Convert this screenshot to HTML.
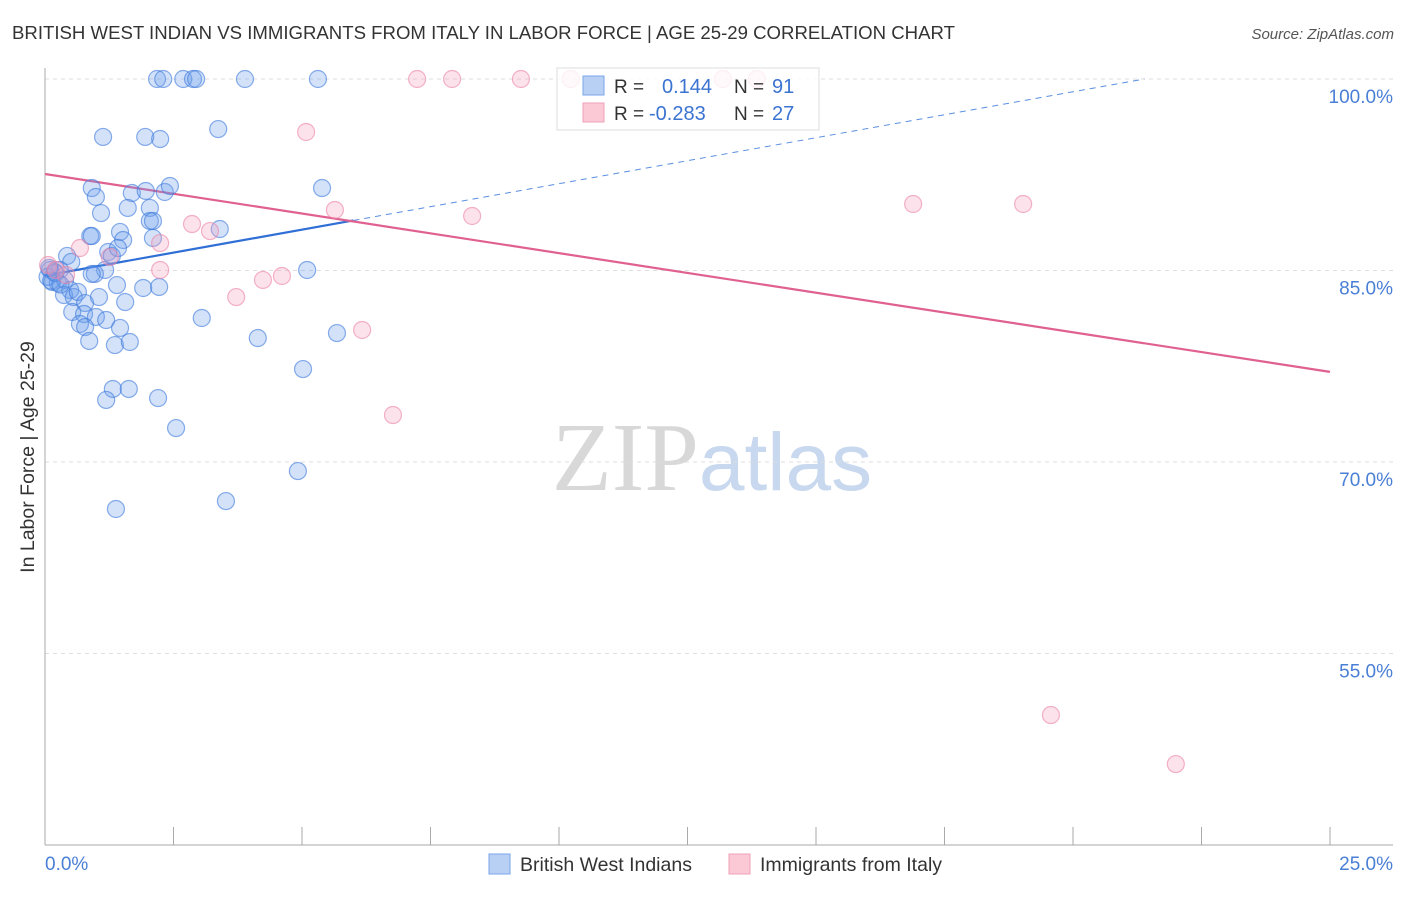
<!DOCTYPE html>
<html><head><meta charset="utf-8"><style>
body{margin:0;background:#fff;font-family:"Liberation Sans",sans-serif;}
svg text{font-family:"Liberation Sans",sans-serif;}
</style></head><body>
<svg id="chart" width="1406" height="892" xmlns="http://www.w3.org/2000/svg">
<text x="12" y="39" font-size="18.6" fill="#333">BRITISH WEST INDIAN VS IMMIGRANTS FROM ITALY IN LABOR FORCE | AGE 25-29 CORRELATION CHART</text>
<text x="1394" y="39" font-size="15" fill="#555" text-anchor="end" font-style="italic">Source: ZipAtlas.com</text>
<text transform="translate(34,457) rotate(-90)" font-size="19.5" fill="#333" text-anchor="middle">In Labor Force | Age 25-29</text>
<text x="712" y="490" font-size="98" text-anchor="middle" fill="#ddd"><tspan font-family="Liberation Serif" fill="#d8d8d8">ZIP</tspan><tspan fill="#c8d8ef" font-size="82">atlas</tspan></text>
<g id="grid"></g>
<g id="axes"></g>
<g id="lines"></g>
<g id="pts"></g>
<g>
<rect x="557" y="68" width="262" height="62" fill="#fff" fill-opacity="0.8" stroke="#ddd"/>
<rect x="583" y="76" width="21" height="19" fill="#b8d0f4" stroke="#7aa6e8"/>
<rect x="583" y="103" width="21" height="19" fill="#fbc8d6" stroke="#f0a0b8"/>
<text x="614" y="93" font-size="19" fill="#333">R = </text><text x="662" y="93" font-size="20" fill="#3b73d1">0.144</text>
<text x="734" y="93" font-size="19" fill="#333">N = </text><text x="772" y="93" font-size="20" fill="#3b73d1">91</text>
<text x="614" y="120" font-size="19" fill="#333">R = </text><text x="649" y="120" font-size="20" fill="#3b73d1">-0.283</text>
<text x="734" y="120" font-size="19" fill="#333">N = </text><text x="772" y="120" font-size="20" fill="#3b73d1">27</text>
</g>
<g>
<rect x="489" y="854" width="21" height="20" fill="#b8d0f4" stroke="#7aa6e8"/>
<text x="520" y="871" font-size="19.5" fill="#333">British West Indians</text>
<rect x="729" y="854" width="21" height="20" fill="#fbc8d6" stroke="#f0a0b8"/>
<text x="760" y="871" font-size="19.5" fill="#333">Immigrants from Italy</text>
</g>
</svg>
<script>
const yTicks=[100,85,70,55];
const yTickLabels=["100.0%","85.0%","70.0%","55.0%"];
const xTickVals=[0,2.5,5,7.5,10,12.5,15,17.5,20,22.5,25];
const blueX=[2.18,2.30,2.69,2.88,2.94,3.89,5.31,1.13,1.95,2.24,3.37,0.91,0.99,1.69,1.96,2.33,2.43,5.39,1.09,1.61,2.04,2.04,2.10,0.88,0.91,1.46,1.52,2.10,3.40,1.23,1.30,1.42,1.17,0.97,0.91,5.10,0.43,0.51,0.29,0.10,0.19,0.14,0.25,0.39,0.49,0.37,0.56,0.64,0.78,1.05,1.56,1.40,1.91,2.22,0.53,0.76,0.99,1.19,0.68,0.78,1.46,0.86,1.36,1.65,3.05,4.14,5.68,1.32,1.63,1.19,2.20,2.55,5.02,4.92,3.52,1.38,0.05,0.12,0.20,0.30,0.08];
const blueY=[100,100,100,100,100,100,100,95.46,95.46,95.30,96.08,91.46,90.76,91.07,91.23,91.15,91.62,91.46,89.50,89.90,89.90,88.88,88.88,87.70,87.70,88.02,87.39,87.55,88.25,86.45,86.14,86.76,85.04,84.73,84.73,85.04,86.14,85.67,85.04,85.04,84.88,84.10,84.02,84.26,83.47,83.08,82.92,83.32,82.45,82.92,82.53,83.86,83.63,83.71,81.75,81.59,81.36,81.12,80.81,80.57,80.50,79.48,79.16,79.40,81.28,79.71,80.10,75.72,75.72,74.86,75.01,72.66,77.28,69.29,66.94,66.32,84.5,84.2,84.8,83.9,85.2];
const pinkX=[7.24,7.92,9.26,10.23,13.19,13.85,5.08,5.64,8.31,16.89,19.03,2.86,3.21,2.24,0.68,1.26,2.24,0.06,4.61,4.24,3.72,6.17,6.77,19.57,22.00,0.21,0.41];
const pinkY=[100,100,100,100,100,100,95.85,89.74,89.27,90.21,90.21,88.64,88.09,87.15,86.76,86.06,85.04,85.43,84.57,84.26,82.92,80.34,73.68,50.18,46.34,85.04,84.65];
const blueFit=[84.6,0.72], pinkFit=[92.56,-0.62];
const NS="http://www.w3.org/2000/svg";
const sx=v=>45+v*(1285/25), sy=v=>79+(100-v)*(191.5/15);
function mk(tag,at,parent){const e=document.createElementNS(NS,tag);for(const k in at)e.setAttribute(k,at[k]);document.getElementById(parent).appendChild(e);return e;}
yTicks.forEach((t,i)=>{
 const g=mk('line',{x1:45,x2:1393,y1:sy(t),y2:sy(t),stroke:'#ddd','stroke-dasharray':'4,4'},'grid');
 
 
 const l=mk('text',{x:1393,y:sy(t)+24,'font-size':19,fill:'#4a7fd6','text-anchor':'end'},'axes');
 l.textContent=yTickLabels[i];
 
 
});
const ax=mk('line',{x1:45,x2:1393,y1:845,y2:845,stroke:'#aaa'},'axes');


const ay=mk('line',{x1:45,x2:45,y1:68,y2:845,stroke:'#aaa'},'axes');


xTickVals.forEach(v=>{
 const t=mk('line',{x1:sx(v),x2:sx(v),y1:827,y2:845,stroke:'#aaa'},'axes');
 
 
});
const xl0=mk('text',{x:45,y:870,'font-size':19,fill:'#4a7fd6'},'axes');xl0.textContent='0.0%';


const xl1=mk('text',{x:1393,y:870,'font-size':19,fill:'#4a7fd6','text-anchor':'end'},'axes');xl1.textContent='25.0%';


blueX.forEach((x,i)=>{
 const c=mk('circle',{cx:sx(x),cy:sy(blueY[i]),r:8.5,fill:'rgba(110,160,235,0.3)',stroke:'rgba(60,120,220,0.6)','stroke-width':1.2},'pts');
 
 
});
pinkX.forEach((x,i)=>{
 const c=mk('circle',{cx:sx(x),cy:sy(pinkY[i]),r:8.5,fill:'rgba(245,160,190,0.3)',stroke:'rgba(235,130,165,0.6)','stroke-width':1.2},'pts');
 
 
});
const bf=x=>blueFit[0]+blueFit[1]*x, pf=x=>pinkFit[0]+pinkFit[1]*x;
const bl=mk('line',{x1:sx(0),y1:sy(bf(0)),x2:sx(6.0),y2:sy(bf(6.0)),stroke:'#2f6fd6','stroke-width':2.2},'lines');


const xEnd=(100-blueFit[0])/blueFit[1];
const bd=mk('line',{x1:sx(6.0),y1:sy(bf(6.0)),x2:sx(xEnd),y2:sy(100),stroke:'#5b8fe0','stroke-width':1,'stroke-dasharray':'6,5'},'lines');


const pl=mk('line',{x1:sx(0),y1:sy(pf(0)),x2:sx(25),y2:sy(pf(25)),stroke:'#e06090','stroke-width':2.2},'lines');


</script>
</body></html>
